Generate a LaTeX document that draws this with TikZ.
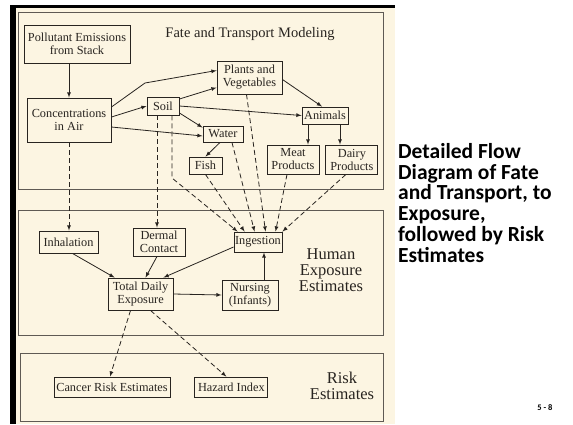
\documentclass[tikz,border=0pt]{standalone}
\usepackage{fontspec}
\setmainfont{Liberation Serif}
\newfontfamily\slidefont{Carlito}
\usepackage{xcolor}
\usepackage{tikz}
\usetikzlibrary{shapes,arrows,positioning}
\definecolor{paper}{RGB}{252,245,226}
\definecolor{ink}{RGB}{40,36,32}
\definecolor{rule}{RGB}{95,90,84}
\tikzset{
    box/.style = {rectangle, draw=ink, line width=0.9pt, fill=paper, text=ink, align=center, inner sep=1pt, font=\fontsize{12.3}{13}\selectfont},
    panel/.style = {draw=rule, line width=0.8pt},
    paneltitle/.style = {text=ink, align=center, inner sep=0pt, font=\fontsize{16.5}{16}\selectfont},
    flow/.style = {draw=ink, line width=0.8pt, -latex},
    pathway/.style = {flow, dash pattern=on 5pt off 3pt}
}

\begin{document}
\begin{tikzpicture}[x=1pt, y=-1pt]
    \useasboundingbox (0,0) rectangle (573,424);

    % Slide and scan
    \fill [white] (0,0) rectangle (573,424);
    \fill [paper] (16,8) rectangle (395,424);
    \fill [black] (10,5) rectangle (16,424);
    \fill [black] (10,5) rectangle (395,8);

    % Panels
    \draw [panel] (18,12) rectangle (383,189);
    \draw [panel] (18,210) rectangle (383,335);
    \draw [panel] (20,353) rectangle (383,421);

    \node [paneltitle, font=\fontsize{14.5}{16}\selectfont] (fatetitle) at (250,34) {Fate and Transport Modeling};
    \node [paneltitle] (humantitle) at (331,270) {Human\\Exposure\\Estimates};
    \node [paneltitle] (risktitle) at (342,386) {Risk\\Estimates};

    % Fate and transport
    \node [box, minimum width=106pt, minimum height=38pt] (emis) at (77,44) {Pollutant Emissions\\from Stack};
    \node [box, minimum width=84pt, minimum height=44pt] (conc) at (69,120) {Concentrations\\in Air};
    \node [box, minimum width=32pt, minimum height=18pt] (soil) at (163,106) {Soil};
    \node [box, minimum width=65pt, minimum height=33pt] (plants) at (249.5,77.5) {Plants and\\Vegetables};
    \node [box, minimum width=40pt, minimum height=16pt] (water) at (223,134) {Water};
    \node [box, minimum width=33pt, minimum height=17pt] (fish) at (205.5,165.5) {Fish};
    \node [box, minimum width=46pt, minimum height=17pt] (animals) at (325,115.5) {Animals};
    \node [box, minimum width=52pt, minimum height=29pt] (meat) at (293,159.5) {Meat\\Products};
    \node [box, minimum width=52pt, minimum height=29pt, right=6pt of meat] (dairy) {Dairy\\Products};

    % Human exposure
    \node [box, minimum width=59pt, minimum height=22pt] (inhal) at (68.5,242) {Inhalation};
    \node [box, minimum width=52pt, minimum height=28pt] (dermal) at (159,242) {Dermal\\Contact};
    \node [box, minimum width=48pt, minimum height=20pt] (ingest) at (258,242) {Ingestion};
    \node [box, minimum width=65pt, minimum height=32pt] (total) at (140.5,294) {Total Daily\\Exposure};
    \node [box, minimum width=56pt, minimum height=30pt] (nursing) at (250,295) {Nursing\\(Infants)};

    % Risk
    \node [box, minimum width=116pt, minimum height=20pt] (cancer) at (112,387) {Cancer Risk Estimates};
    \node [box, minimum width=73pt, minimum height=20pt, right=24pt of cancer] (hazard) {Hazard Index};

    % Relations: fate and transport
    \draw [flow] (emis.south -| conc.north) -- (conc.north);
    \coordinate (bend) at (145,83);
    \draw [flow] ([yshift=13pt]conc.east) -- (bend) -- ([yshift=7pt]plants.west);
    \draw [flow] ([yshift=3pt]conc.east) -- (soil.west);
    \draw [flow] ([yshift=-7pt]conc.east) -- ([yshift=-2pt]water.west);
    \draw [flow] ([yshift=7pt]soil.east) -- ([yshift=-10pt]plants.west);
    \draw [flow] (soil.east) -- (animals.west);
    \draw [flow] ([yshift=-7pt]soil.east) -- ([yshift=-2pt]water.north west);
    \draw [flow] ([xshift=-3pt]water.south) -- (fish.north);
    \draw [flow] ([yshift=-2pt]plants.east) -- ([xshift=-3pt]animals.north);
    \draw [flow] ([xshift=-17pt]animals.south) -- ([xshift=-17pt]animals.south |- meat.north);
    \draw [flow] ([xshift=15pt]animals.south) -- ([xshift=15pt]animals.south |- dairy.north);

    % Relations: to exposure
    \draw [pathway] (conc.south) -- (conc.south |- inhal.north);
    \draw [pathway] ([xshift=-6pt]soil.south) -- ([xshift=-6pt]soil.south |- dermal.north);
    \coordinate (drop) at (172,178);
    \draw [pathway] ([xshift=9pt]soil.south) -- (drop) -- ([xshift=4pt]ingest.north west);
    \draw [pathway] (fish.south) -- ([xshift=11pt]ingest.north west);
    \draw [pathway] ([xshift=9pt]water.south) -- ([xshift=21pt]ingest.north west);
    \draw [pathway] ([xshift=-3pt]plants.south) -- ([xshift=32pt]ingest.north west);
    \draw [pathway] ([xshift=-6pt]meat.south) -- ([xshift=42pt]ingest.north west);
    \draw [pathway] ([xshift=-6pt]dairy.south) -- (ingest.north east);

    % Relations: exposure
    \draw [flow] ([xshift=4pt]inhal.south) -- ([xshift=7pt]total.north west);
    \draw [flow] ([xshift=-2pt]dermal.south) -- ([xshift=5pt]total.north);
    \draw [flow] ([yshift=-5pt]ingest.west) -- ([xshift=-10pt]total.north east);
    \draw [flow] (total.east) -- (nursing.west);
    \draw [flow] ([xshift=14pt]nursing.north) -- ([xshift=14pt]nursing.north |- ingest.south);

    % Relations: risk
    \draw [pathway] ([xshift=-10pt]total.south) -- ([xshift=-2pt]cancer.north);
    \draw [pathway] ([xshift=10pt]total.south) -- ([xshift=-5pt]hazard.north);

    % Slide text
    \node [anchor=north west, inner sep=0pt, align=left, font=\slidefont\bfseries\fontsize{21.5}{20.8}\selectfont] (heading) at (398,143) {Detailed Flow\\Diagram of Fate\\and Transport, to\\Exposure,\\followed by Risk\\Estimates};
    \node [font=\slidefont\bfseries\fontsize{8.5}{9}\selectfont] (pageno) at (545,408) {5 - 8};
\end{tikzpicture}
\end{document}
